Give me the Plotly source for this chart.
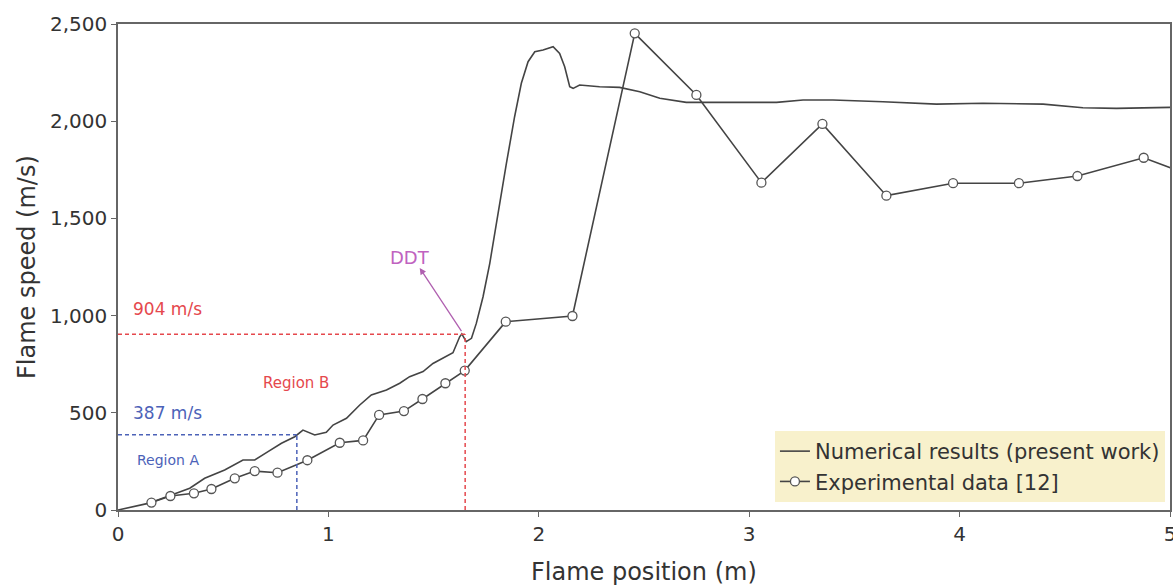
import plotly.graph_objects as go

# Numerical results (present work)
num_x = [0.0, 0.143, 0.254, 0.341, 0.412, 0.507, 0.594, 0.650, 0.713, 0.777, 0.840, 0.879,
         0.935, 0.990, 1.022, 1.086, 1.149, 1.204, 1.276, 1.339, 1.386, 1.450, 1.497, 1.553,
         1.592, 1.624, 1.634, 1.655, 1.680, 1.703, 1.735, 1.767, 1.806, 1.846, 1.885, 1.917,
         1.949, 1.981, 2.020, 2.068, 2.099, 2.123, 2.147, 2.163, 2.194, 2.289, 2.384, 2.480,
         2.575, 2.701, 2.892, 3.020, 3.130, 3.256, 3.398, 3.636, 3.890, 4.111, 4.397, 4.586,
         4.745, 5.0]
num_y = [0, 34, 77, 112, 163, 206, 257, 257, 300, 343, 377, 411,
         386, 400, 437, 472, 540, 592, 617, 652, 686, 712, 754, 789,
         809, 891, 906, 866, 883, 960, 1097, 1269, 1526, 1783, 2023, 2195,
         2306, 2357, 2366, 2383, 2349, 2280, 2177, 2169, 2186, 2177, 2174, 2152,
         2118, 2097, 2097, 2099, 2097, 2109, 2109, 2100, 2088, 2092, 2088, 2069,
         2066, 2071]

# Experimental data [12]
exp_x = [0.159, 0.249, 0.361, 0.444, 0.555, 0.650, 0.758, 0.900, 1.054, 1.165, 1.241, 1.359,
         1.447, 1.556, 1.648, 1.843, 2.160, 2.456, 2.749, 3.058, 3.348, 3.652, 3.969, 4.282,
         4.560, 4.875, 5.12]
exp_y = [38, 72, 86, 108, 163, 200, 192, 256, 346, 358, 489, 509,
         571, 652, 717, 969, 998, 2452, 2135, 1684, 1986, 1617, 1681, 1681,
         1718, 1812, 1712]

x_ticks = [0, 1, 2, 3, 4, 5]
y_ticks = [0, 500, 1000, 1500, 2000, 2500]

ddt_x, ddt_y = 1.65, 904
a_x, a_y = 0.85, 387

font = "DejaVu Sans, sans-serif"
txt = "#333333"

fig = go.Figure()
fig.add_trace(go.Scatter(x=num_x, y=num_y, mode="lines", name="Numerical results (present work)",
                         line=dict(color="#444444", width=1.6)))
fig.add_trace(go.Scatter(x=exp_x, y=exp_y, mode="lines+markers", name="Experimental data [12]",
                         line=dict(color="#444444", width=1.6),
                         marker=dict(symbol="circle", size=9, color="white",
                                     line=dict(color="#555555", width=1.3))))

red = "#e5484d"
blue = "#4c62b8"
fig.add_shape(type="line", x0=0, x1=ddt_x, y0=ddt_y, y1=ddt_y, line=dict(color=red, width=1.5, dash="4px,3px"))
fig.add_shape(type="line", x0=ddt_x, x1=ddt_x, y0=0, y1=ddt_y, line=dict(color=red, width=1.5, dash="4px,3px"))
fig.add_shape(type="line", x0=0, x1=a_x, y0=a_y, y1=a_y, line=dict(color=blue, width=1.5, dash="4px,3px"))
fig.add_shape(type="line", x0=a_x, x1=a_x, y0=0, y1=a_y, line=dict(color=blue, width=1.5, dash="4px,3px"))

fig.add_annotation(x=0.06, y=1034, text="904 m/s", showarrow=False, xanchor="left",
                   font=dict(color=red, size=17, family=font))
fig.add_annotation(x=0.06, y=499, text="387 m/s", showarrow=False, xanchor="left",
                   font=dict(color=blue, size=17, family=font))
fig.add_annotation(x=0.08, y=257, text="Region A", showarrow=False, xanchor="left",
                   font=dict(color=blue, size=14, family=font))
fig.add_annotation(x=0.846, y=653, text="Region B", showarrow=False,
                   font=dict(color=red, size=15, family=font))
fig.add_annotation(x=1.386, y=1301, text="DDT", showarrow=False,
                   font=dict(color="#c062c0", size=18, family=font))
fig.add_annotation(x=1.434, y=1245, ax=1.637, ay=912, axref="x", ayref="y", text="",
                   showarrow=True, arrowhead=2, arrowsize=1, arrowwidth=1.3, arrowcolor="#b060b0")

# axis titles
fig.add_annotation(x=0.5, y=-0.128, xref="paper", yref="paper", text="Flame position (m)",
                   showarrow=False, yanchor="middle", font=dict(size=24, color=txt, family=font))
fig.add_annotation(x=-0.0865, y=0.5, xref="paper", yref="paper", text="Flame speed (m/s)",
                   showarrow=False, textangle=-90, xanchor="center", yanchor="middle",
                   font=dict(size=24, color=txt, family=font))

axis_common = dict(showline=True, linecolor="#666666", linewidth=1.5, mirror=True,
                   ticks="outside", ticklen=5, tickcolor="#666666", showgrid=False,
                   zeroline=False, automargin=False, ticklabeloverflow="allow",
                   tickfont=dict(size=20, color=txt, family=font))

fig.update_layout(
    width=1173, height=586,
    margin=dict(l=118, r=3, t=24, b=76),
    plot_bgcolor="white", paper_bgcolor="white",
    xaxis=dict(range=[0, 5], tickvals=x_ticks, **axis_common),
    yaxis=dict(range=[0, 2500], tickvals=y_ticks, tickformat=",", **axis_common),
    legend=dict(x=0.9952, y=0.0165, xanchor="right", yanchor="bottom", bgcolor="#f8f1cc",
                font=dict(size=21, color=txt, family=font), tracegroupgap=0,
                itemwidth=30, borderwidth=0),
    showlegend=True,
)

fig.write_html("out.html", config={"displayModeBar": False},
               post_script="document.body.style.margin='0';document.body.style.overflow='hidden';")
